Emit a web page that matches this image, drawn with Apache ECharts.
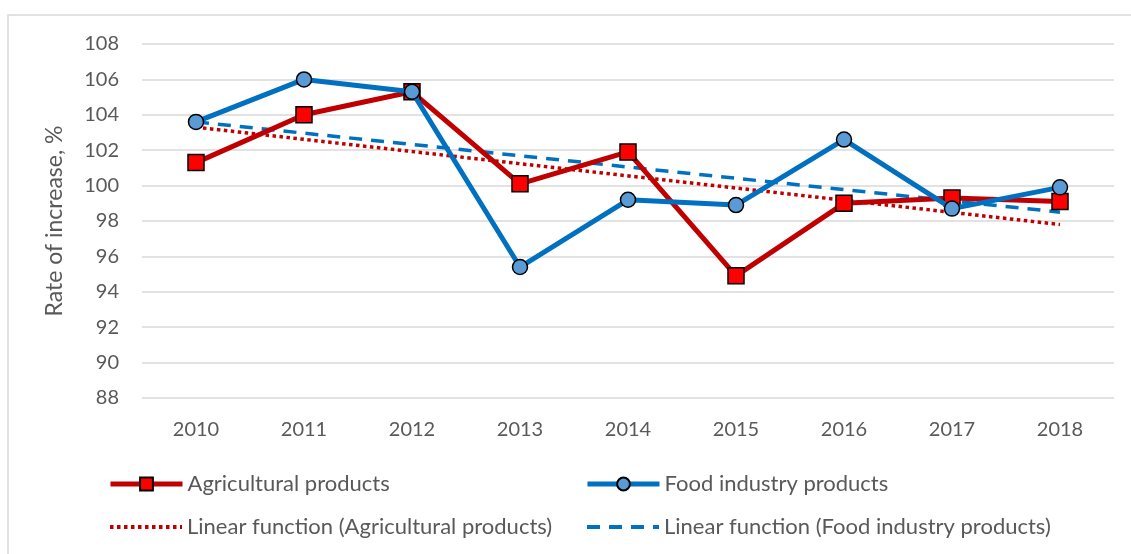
<!DOCTYPE html>
<html>
<head>
<meta charset="utf-8">
<script src="https://cdn.jsdelivr.net/npm/echarts@6/dist/echarts.min.js"></script>
<style>html,body{margin:0;padding:0;background:#fff;}#c{width:1131px;height:554px;}</style>
</head>
<body>
<div id="c"></div>
<script>
const years = ['2010','2011','2012','2013','2014','2015','2016','2017','2018'];
const agricultural = [101.3, 104.0, 105.3, 100.1, 101.9, 94.9, 99.0, 99.3, 99.1];
const foodIndustry = [103.6, 106.0, 105.3, 95.4, 99.2, 98.9, 102.6, 98.7, 99.9];
// trend line endpoints (2010 and 2018)
const agriTrend = [103.3, null, null, null, null, null, null, null, 97.8];
const foodTrend = [103.6, null, null, null, null, null, null, null, 98.5];
const yTicks = {min: 88, max: 108, interval: 2};

const names = ['Agricultural products', 'Food industry products',
  'Linear function (Agricultural products)', 'Linear function (Food industry products)'];
const FONT = 'Lato';
const TXT = '#595959';

const chart = echarts.init(document.getElementById('c'));
const legendBase = {
  itemWidth: 72, itemHeight: 16, padding: 0,
  textStyle: {fontSize: 22, color: TXT, fontFamily: FONT},
  itemGap: 3, selectedMode: false
};
chart.setOption({
  animation: false,
  backgroundColor: '#fff',
  graphic: [{type: 'rect', shape: {x: 8, y: 15, width: 1200, height: 700},
    style: {fill: 'none', stroke: '#D9D9D9', lineWidth: 1.5}, silent: true}],
  grid: {left: 142, right: 17, top: 44, bottom: 156},
  legend: [
    Object.assign({}, legendBase, {data: [names[0]], left: 108, top: 473, lineStyle: {width: 5}}),
    Object.assign({}, legendBase, {data: [names[1]], left: 585, top: 473, lineStyle: {width: 5}}),
    Object.assign({}, legendBase, {data: [names[2]], left: 108, top: 516, lineStyle: {width: 4}, itemStyle: {opacity: 0}}),
    Object.assign({}, legendBase, {data: [names[3]], left: 585, top: 516, lineStyle: {width: 4}, itemStyle: {opacity: 0}})
  ],
  xAxis: {
    type: 'category', data: years, boundaryGap: true,
    axisLine: {show: false}, axisTick: {show: false},
    axisLabel: {fontSize: 20, color: TXT, fontFamily: FONT, margin: 22}
  },
  yAxis: {
    type: 'value', min: yTicks.min, max: yTicks.max, interval: yTicks.interval,
    name: 'Rate of increase, %', nameLocation: 'middle', nameGap: 76,
    nameTextStyle: {fontSize: 23, color: TXT, fontFamily: FONT},
    axisLine: {show: false}, axisTick: {show: false},
    axisLabel: {fontSize: 20, color: TXT, fontFamily: FONT, margin: 23},
    splitLine: {lineStyle: {color: '#D9D9D9', width: 1.5}}
  },
  series: [
    {name: names[2], type: 'line', data: agriTrend, connectNulls: true, symbol: 'none', z: 2,
      lineStyle: {color: '#C00000', width: 3.5, type: [3.5, 3.5]}, itemStyle: {color: '#C00000'}},
    {name: names[3], type: 'line', data: foodTrend, connectNulls: true, symbol: 'none', z: 2,
      lineStyle: {color: '#0070C0', width: 3.5, type: [13, 9]}, itemStyle: {color: '#0070C0'}},
    {name: names[0], type: 'line', data: agricultural, symbol: 'rect', symbolSize: 16, z: 3,
      lineStyle: {color: '#C00000', width: 5},
      itemStyle: {color: '#FF0000', borderColor: '#000', borderWidth: 1.5}},
    {name: names[1], type: 'line', data: foodIndustry, symbol: 'circle', symbolSize: 15, z: 4,
      lineStyle: {color: '#0070C0', width: 5},
      itemStyle: {color: '#5B9BD5', borderColor: '#000', borderWidth: 1.5}}
  ]
});
</script>
</body>
</html>
